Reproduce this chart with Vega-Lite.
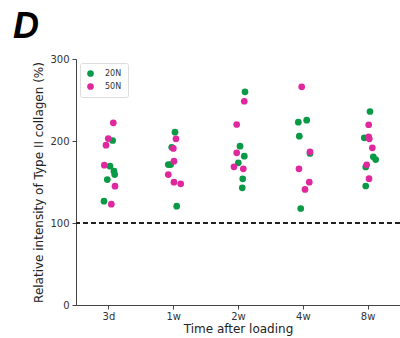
{
  "$schema": "https://vega.github.io/schema/vega-lite/v6.json",
  "width": 324,
  "height": 246,
  "autosize": "none",
  "padding": {"left": 76, "top": 59, "right": 0, "bottom": 33},
  "background": "white",
  "config": {
    "view": {"stroke": null},
    "font": "DejaVu Sans",
    "axis": {"domainColor": "#444", "tickColor": "#444", "labelColor": "#333", "titleColor": "#222", "grid": false, "labelFont": "DejaVu Sans", "titleFont": "DejaVu Sans", "titleFontWeight": "normal", "labelFontSize": 10, "titleFontSize": 12, "tickSize": 4, "domainWidth": 1}
  },
  "title": {"text": "D", "anchor": "start", "frame": "group", "font": "Liberation Sans", "fontSize": 36, "fontStyle": "italic", "fontWeight": "bold", "color": "#000", "dx": -63, "offset": 8},
  "data": {"values": [
    {"t": 1.066, "value": 200.6, "load": "20N"},
    {"t": 1.025, "value": 169.3, "load": "20N"},
    {"t": 1.086, "value": 163.2, "load": "20N"},
    {"t": 1.097, "value": 159.1, "load": "20N"},
    {"t": 0.983, "value": 153.0, "load": "20N"},
    {"t": 0.932, "value": 126.6, "load": "20N"},
    {"t": 2.028, "value": 210.7, "load": "20N"},
    {"t": 1.977, "value": 192.4, "load": "20N"},
    {"t": 1.924, "value": 171.3, "load": "20N"},
    {"t": 1.961, "value": 171.3, "load": "20N"},
    {"t": 2.054, "value": 120.5, "load": "20N"},
    {"t": 3.108, "value": 260.0, "load": "20N"},
    {"t": 3.031, "value": 193.7, "load": "20N"},
    {"t": 3.097, "value": 181.5, "load": "20N"},
    {"t": 3.005, "value": 173.4, "load": "20N"},
    {"t": 3.073, "value": 153.9, "load": "20N"},
    {"t": 3.066, "value": 142.9, "load": "20N"},
    {"t": 3.931, "value": 222.9, "load": "20N"},
    {"t": 4.060, "value": 225.4, "load": "20N"},
    {"t": 3.946, "value": 205.9, "load": "20N"},
    {"t": 4.111, "value": 184.8, "load": "20N"},
    {"t": 3.968, "value": 117.7, "load": "20N"},
    {"t": 5.037, "value": 236.0, "load": "20N"},
    {"t": 4.949, "value": 203.9, "load": "20N"},
    {"t": 5.088, "value": 180.7, "load": "20N"},
    {"t": 5.125, "value": 177.4, "load": "20N"},
    {"t": 4.971, "value": 168.3, "load": "20N"},
    {"t": 4.971, "value": 145.1, "load": "20N"},
    {"t": 1.076, "value": 222.2, "load": "50N"},
    {"t": 0.998, "value": 203.0, "load": "50N"},
    {"t": 0.963, "value": 194.9, "load": "50N"},
    {"t": 0.937, "value": 170.5, "load": "50N"},
    {"t": 1.102, "value": 144.9, "load": "50N"},
    {"t": 1.045, "value": 123.0, "load": "50N"},
    {"t": 2.043, "value": 202.7, "load": "50N"},
    {"t": 2.002, "value": 190.9, "load": "50N"},
    {"t": 2.012, "value": 175.4, "load": "50N"},
    {"t": 1.924, "value": 159.1, "load": "50N"},
    {"t": 2.012, "value": 149.8, "load": "50N"},
    {"t": 2.116, "value": 147.8, "load": "50N"},
    {"t": 3.097, "value": 248.5, "load": "50N"},
    {"t": 2.980, "value": 220.1, "load": "50N"},
    {"t": 2.980, "value": 185.6, "load": "50N"},
    {"t": 2.938, "value": 168.5, "load": "50N"},
    {"t": 3.082, "value": 166.1, "load": "50N"},
    {"t": 3.983, "value": 266.1, "load": "50N"},
    {"t": 4.111, "value": 186.8, "load": "50N"},
    {"t": 3.941, "value": 166.1, "load": "50N"},
    {"t": 4.100, "value": 149.8, "load": "50N"},
    {"t": 4.034, "value": 140.9, "load": "50N"},
    {"t": 5.017, "value": 219.8, "load": "50N"},
    {"t": 5.017, "value": 205.1, "load": "50N"},
    {"t": 5.026, "value": 202.7, "load": "50N"},
    {"t": 5.073, "value": 191.7, "load": "50N"},
    {"t": 4.986, "value": 171.0, "load": "50N"},
    {"t": 5.022, "value": 154.0, "load": "50N"}
  ]},
  "layer": [
    {
      "mark": {"type": "rule", "strokeDash": [5, 3], "strokeWidth": 1.5, "color": "#222"},
      "encoding": {"y": {"datum": 100, "type": "quantitative"}}
    },
    {
      "mark": {"type": "circle", "size": 45, "opacity": 1},
      "encoding": {
        "x": {"field": "t", "type": "quantitative", "scale": {"domain": [0.5, 5.5], "nice": false, "zero": false},
              "axis": {"values": [1, 2, 3, 4, 5], "labelExpr": "['','3d','1w','2w','4w','8w'][datum.value]", "title": "Time after loading", "titleFontSize": 12, "titlePadding": 2, "labelPadding": 2}},
        "y": {"field": "value", "type": "quantitative", "scale": {"domain": [0, 300], "nice": false},
              "axis": {"values": [0, 100, 200, 300], "title": "Relative intensity of Type II collagen (%)", "titlePadding": 4, "labelPadding": 3}},
        "color": {"field": "load", "type": "nominal", "scale": {"domain": ["20N", "50N"], "range": ["#0a9a46", "#e0289e"]},
                  "legend": {"orient": "top-left", "title": null, "offset": 4, "padding": 6, "strokeColor": "#ddd", "fillColor": "white", "cornerRadius": 2, "symbolType": "circle", "symbolSize": 45, "symbolOpacity": 1, "labelFontSize": 8, "labelColor": "#333", "labelOffset": 10, "rowPadding": 4}},
        "order": {"field": "load", "sort": "ascending"}
      }
    }
  ]
}
